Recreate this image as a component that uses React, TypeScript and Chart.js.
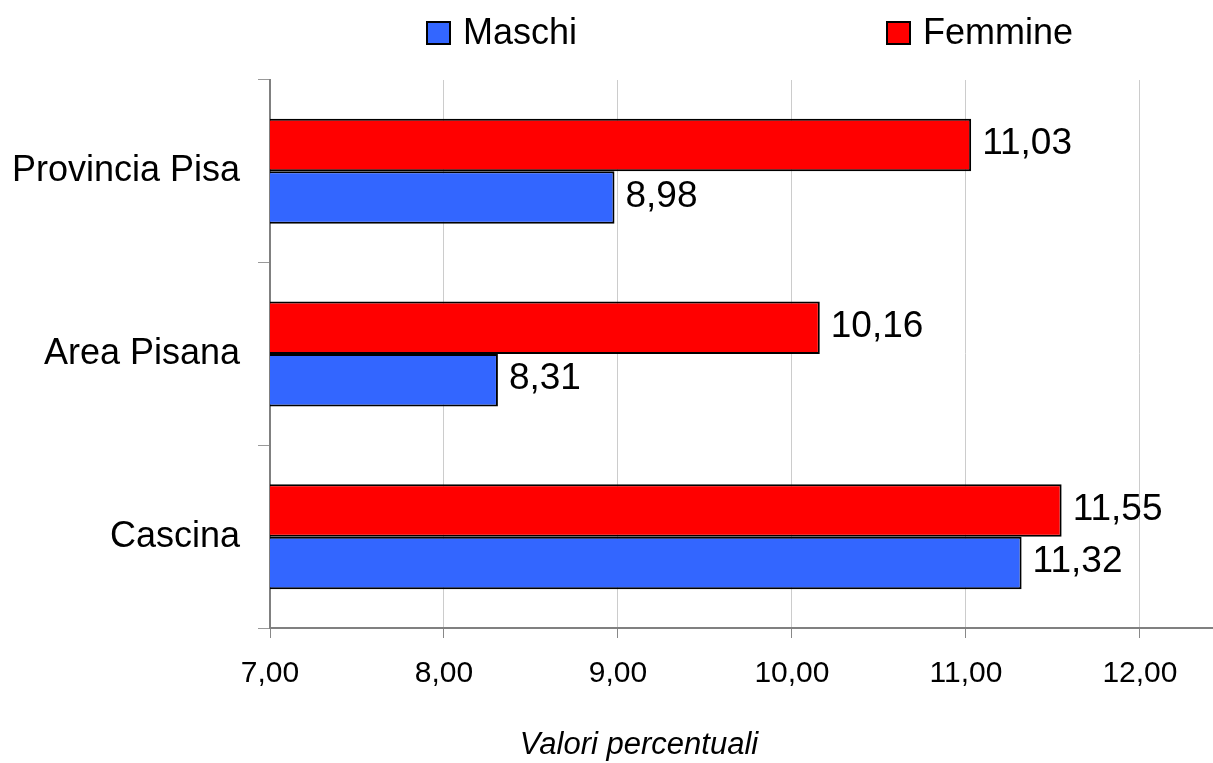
import React, { useEffect, useRef } from "react";
import { Chart, registerables } from "chart.js";

Chart.register(...registerables);

const categories = ["Provincia Pisa", "Area Pisana", "Cascina"];
const maschi = [8.98, 8.31, 11.32];
const femmine = [11.03, 10.16, 11.55];
const xMin = 7;
const xMax = 12.42;
const axisTitle = "Valori percentuali";
const legendItems = [
  { label: "Maschi", color: "#3366ff" },
  { label: "Femmine", color: "#ff0000" },
];

const FONT = "'Liberation Sans', Arial, sans-serif";
const fmt = (v: number) => v.toFixed(2).replace(".", ",");

export default function App() {
  const ref = useRef<HTMLCanvasElement | null>(null);

  useEffect(() => {
    if (!ref.current) return;

    const labelsPlugin = {
      id: "valueLabels",
      afterDatasetsDraw(chart: any) {
        const ctx = chart.ctx;
        ctx.save();
        ctx.font = `37px ${FONT}`;
        ctx.fillStyle = "#000";
        ctx.textAlign = "left";
        ctx.textBaseline = "middle";
        chart.data.datasets.forEach((ds: any, i: number) => {
          const meta = chart.getDatasetMeta(i);
          meta.data.forEach((bar: any, j: number) => {
            ctx.fillText(fmt(ds.data[j]), bar.x + 11, bar.y - 1);
          });
        });
        ctx.restore();
      },
    };

    const legendPlugin = {
      id: "customLegend",
      afterDraw(chart: any) {
        const ctx = chart.ctx;
        ctx.save();
        const xs = [427, 887];
        legendItems.forEach((it, i) => {
          const x = xs[i];
          ctx.fillStyle = it.color;
          ctx.fillRect(x, 22, 23, 22);
          ctx.strokeStyle = "#000";
          ctx.lineWidth = 2;
          ctx.strokeRect(x, 22, 23, 22);
          ctx.fillStyle = "#000";
          ctx.font = `36px ${FONT}`;
          ctx.textAlign = "left";
          ctx.textBaseline = "alphabetic";
          ctx.fillText(it.label, x + 36, 44);
        });
        ctx.font = `italic 31px ${FONT}`;
        ctx.textAlign = "center";
        ctx.fillText(axisTitle, 639, 754);
        ctx.restore();
      },
    };

    const chart = new Chart(ref.current, {
      type: "bar",
      data: {
        labels: categories,
        datasets: [
          {
            label: "Femmine",
            data: femmine,
            backgroundColor: "#ff0000",
            borderColor: "#000",
            borderWidth: 2,
            barPercentage: 1,
            categoryPercentage: 0.575,
          },
          {
            label: "Maschi",
            data: maschi,
            backgroundColor: "#3366ff",
            borderColor: "#000",
            borderWidth: 2,
            barPercentage: 1,
            categoryPercentage: 0.575,
          },
        ],
      },
      options: {
        indexAxis: "y",
        responsive: false,
        animation: false,
        layout: { padding: { top: 80, left: 0, right: 0, bottom: 0 } },
        plugins: {
          legend: { display: false },
          tooltip: { enabled: false },
        },
        scales: {
          x: {
            type: "linear",
            min: xMin,
            max: xMax,
            ticks: {
              stepSize: 1,
              includeBounds: false,
              callback: (v: any) => fmt(Number(v)),
              font: { size: 30, family: FONT },
              color: "#000",
              padding: 18,
              maxRotation: 0,
            },
            afterBuildTicks: (scale: any) => {
              scale.ticks = scale.ticks.filter((t: any) => Number.isInteger(t.value));
            },
            grid: {
              color: "#cccccc",
              tickColor: "#888888",
              tickLength: 10,
              lineWidth: 1,
            },
            border: { color: "#808080", width: 2 },
            afterFit: (scale: any) => {
              scale.height = 135;
            },
          },
          y: {
            type: "category",
            ticks: {
              font: { size: 36, family: FONT },
              color: "#000",
              padding: 18,
            },
            grid: {
              drawOnChartArea: false,
              tickColor: "#999999",
              tickLength: 12,
              offset: true,
            },
            border: { color: "#808080", width: 2 },
            afterFit: (scale: any) => {
              scale.width = 270;
            },
          },
        },
      },
      plugins: [labelsPlugin, legendPlugin],
    } as any);

    return () => chart.destroy();
  }, []);

  return (
    <div style={{ position: "absolute", left: 0, top: 0, width: 1213, height: 763, background: "#fff" }}>
      <canvas ref={ref} width={1213} height={763} />
    </div>
  );
}
